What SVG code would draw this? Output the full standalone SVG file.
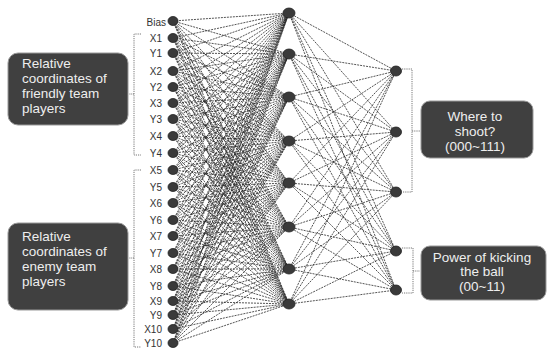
<svg xmlns="http://www.w3.org/2000/svg" width="554" height="354" viewBox="0 0 554 354">
<defs>
<style>
.bg{fill:#ffffff}
.conn{fill:none;stroke:#2a2a2a;stroke-width:0.8;stroke-dasharray:2 1}
.brk{fill:none;stroke:#777;stroke-width:1;stroke-dasharray:1.2 1}
.nin{fill:#3a3a3a;stroke:#222;stroke-width:0.8}
.lbl{font-family:"Liberation Sans",Arial,sans-serif;font-size:10px;fill:#333;text-anchor:end}
.box{fill:#404040;stroke:#999;stroke-width:1}
.bt{font-family:"Liberation Sans",Arial,sans-serif;font-size:13.5px;fill:#eeeeee}
.btc{font-family:"Liberation Sans",Arial,sans-serif;font-size:13.5px;fill:#eeeeee;text-anchor:middle}
</style>
</defs>
<rect class="bg" x="0" y="0" width="554" height="354"/>
<g id="connectors">
<path class="conn" d="M173 21L289 13M173 21L289 54M173 21L289 97M173 21L289 141M173 21L289 183M173 21L289 227M173 21L289 269M173 21L289 304"/>
<path class="conn" d="M173 38L289 13M173 38L289 54M173 38L289 97M173 38L289 141M173 38L289 183M173 38L289 227M173 38L289 269M173 38L289 304"/>
<path class="conn" d="M173 53L289 13M173 53L289 54M173 53L289 97M173 53L289 141M173 53L289 183M173 53L289 227M173 53L289 269M173 53L289 304"/>
<path class="conn" d="M173 71L289 13M173 71L289 54M173 71L289 97M173 71L289 141M173 71L289 183M173 71L289 227M173 71L289 269M173 71L289 304"/>
<path class="conn" d="M173 87L289 13M173 87L289 54M173 87L289 97M173 87L289 141M173 87L289 183M173 87L289 227M173 87L289 269M173 87L289 304"/>
<path class="conn" d="M173 103L289 13M173 103L289 54M173 103L289 97M173 103L289 141M173 103L289 183M173 103L289 227M173 103L289 269M173 103L289 304"/>
<path class="conn" d="M173 119L289 13M173 119L289 54M173 119L289 97M173 119L289 141M173 119L289 183M173 119L289 227M173 119L289 269M173 119L289 304"/>
<path class="conn" d="M173 136L289 13M173 136L289 54M173 136L289 97M173 136L289 141M173 136L289 183M173 136L289 227M173 136L289 269M173 136L289 304"/>
<path class="conn" d="M173 153L289 13M173 153L289 54M173 153L289 97M173 153L289 141M173 153L289 183M173 153L289 227M173 153L289 269M173 153L289 304"/>
<path class="conn" d="M173 170L289 13M173 170L289 54M173 170L289 97M173 170L289 141M173 170L289 183M173 170L289 227M173 170L289 269M173 170L289 304"/>
<path class="conn" d="M173 187L289 13M173 187L289 54M173 187L289 97M173 187L289 141M173 187L289 183M173 187L289 227M173 187L289 269M173 187L289 304"/>
<path class="conn" d="M173 203L289 13M173 203L289 54M173 203L289 97M173 203L289 141M173 203L289 183M173 203L289 227M173 203L289 269M173 203L289 304"/>
<path class="conn" d="M173 220L289 13M173 220L289 54M173 220L289 97M173 220L289 141M173 220L289 183M173 220L289 227M173 220L289 269M173 220L289 304"/>
<path class="conn" d="M173 236L289 13M173 236L289 54M173 236L289 97M173 236L289 141M173 236L289 183M173 236L289 227M173 236L289 269M173 236L289 304"/>
<path class="conn" d="M173 253L289 13M173 253L289 54M173 253L289 97M173 253L289 141M173 253L289 183M173 253L289 227M173 253L289 269M173 253L289 304"/>
<path class="conn" d="M173 269L289 13M173 269L289 54M173 269L289 97M173 269L289 141M173 269L289 183M173 269L289 227M173 269L289 269M173 269L289 304"/>
<path class="conn" d="M173 286L289 13M173 286L289 54M173 286L289 97M173 286L289 141M173 286L289 183M173 286L289 227M173 286L289 269M173 286L289 304"/>
<path class="conn" d="M173 301L289 13M173 301L289 54M173 301L289 97M173 301L289 141M173 301L289 183M173 301L289 227M173 301L289 269M173 301L289 304"/>
<path class="conn" d="M173 315L289 13M173 315L289 54M173 315L289 97M173 315L289 141M173 315L289 183M173 315L289 227M173 315L289 269M173 315L289 304"/>
<path class="conn" d="M173 329L289 13M173 329L289 54M173 329L289 97M173 329L289 141M173 329L289 183M173 329L289 227M173 329L289 269M173 329L289 304"/>
<path class="conn" d="M173 343L289 13M173 343L289 54M173 343L289 97M173 343L289 141M173 343L289 183M173 343L289 227M173 343L289 269M173 343L289 304"/>
<path class="conn" d="M289 13L396 71M289 13L396 132M289 13L396 192M289 13L396 251M289 13L396 290"/>
<path class="conn" d="M289 54L396 71M289 54L396 132M289 54L396 192M289 54L396 251M289 54L396 290"/>
<path class="conn" d="M289 97L396 71M289 97L396 132M289 97L396 192M289 97L396 251M289 97L396 290"/>
<path class="conn" d="M289 141L396 71M289 141L396 132M289 141L396 192M289 141L396 251M289 141L396 290"/>
<path class="conn" d="M289 183L396 71M289 183L396 132M289 183L396 192M289 183L396 251M289 183L396 290"/>
<path class="conn" d="M289 227L396 71M289 227L396 132M289 227L396 192M289 227L396 251M289 227L396 290"/>
<path class="conn" d="M289 269L396 71M289 269L396 132M289 269L396 192M289 269L396 251M289 269L396 290"/>
<path class="conn" d="M289 304L396 71M289 304L396 132M289 304L396 192M289 304L396 251M289 304L396 290"/>
<path class="brk" d="M141 34H134V155H141M134 94H129"/>
<path class="brk" d="M141 170H134V347H141M134 258H129"/>
<path class="brk" d="M402 69H412V192H402M412 131H420"/>
<path class="brk" d="M402 248H413V293H402M413 271H420"/>
</g>
<g id="input-nodes">
<g id="in-bias"><ellipse class="nin" cx="173" cy="21" rx="5" ry="4.5"/><text class="lbl" x="166" y="26">Bias</text></g>
<g id="in-x1"><ellipse class="nin" cx="173" cy="38" rx="5" ry="4.5"/><text class="lbl" x="162" y="42">X1</text></g>
<g id="in-y1"><ellipse class="nin" cx="173" cy="53" rx="5" ry="4.5"/><text class="lbl" x="162" y="57">Y1</text></g>
<g id="in-x2"><ellipse class="nin" cx="173" cy="71" rx="5" ry="4.5"/><text class="lbl" x="162" y="75">X2</text></g>
<g id="in-y2"><ellipse class="nin" cx="173" cy="87" rx="5" ry="4.5"/><text class="lbl" x="162" y="91">Y2</text></g>
<g id="in-x3"><ellipse class="nin" cx="173" cy="103" rx="5" ry="4.5"/><text class="lbl" x="162" y="107">X3</text></g>
<g id="in-y3"><ellipse class="nin" cx="173" cy="119" rx="5" ry="4.5"/><text class="lbl" x="162" y="123">Y3</text></g>
<g id="in-x4"><ellipse class="nin" cx="173" cy="136" rx="5" ry="4.5"/><text class="lbl" x="162" y="140">X4</text></g>
<g id="in-y4"><ellipse class="nin" cx="173" cy="153" rx="5" ry="4.5"/><text class="lbl" x="162" y="157">Y4</text></g>
<g id="in-x5"><ellipse class="nin" cx="173" cy="170" rx="5" ry="4.5"/><text class="lbl" x="162" y="174">X5</text></g>
<g id="in-y5"><ellipse class="nin" cx="173" cy="187" rx="5" ry="4.5"/><text class="lbl" x="162" y="191">Y5</text></g>
<g id="in-x6"><ellipse class="nin" cx="173" cy="203" rx="5" ry="4.5"/><text class="lbl" x="162" y="207">X6</text></g>
<g id="in-y6"><ellipse class="nin" cx="173" cy="220" rx="5" ry="4.5"/><text class="lbl" x="162" y="224">Y6</text></g>
<g id="in-x7"><ellipse class="nin" cx="173" cy="236" rx="5" ry="4.5"/><text class="lbl" x="162" y="240">X7</text></g>
<g id="in-y7"><ellipse class="nin" cx="173" cy="253" rx="5" ry="4.5"/><text class="lbl" x="162" y="257">Y7</text></g>
<g id="in-x8"><ellipse class="nin" cx="173" cy="269" rx="5" ry="4.5"/><text class="lbl" x="162" y="273">X8</text></g>
<g id="in-y8"><ellipse class="nin" cx="173" cy="286" rx="5" ry="4.5"/><text class="lbl" x="162" y="290">Y8</text></g>
<g id="in-x9"><ellipse class="nin" cx="173" cy="301" rx="5" ry="4.5"/><text class="lbl" x="162" y="305">X9</text></g>
<g id="in-y9"><ellipse class="nin" cx="173" cy="315" rx="5" ry="4.5"/><text class="lbl" x="162" y="319">Y9</text></g>
<g id="in-x10"><ellipse class="nin" cx="173" cy="329" rx="5" ry="4.5"/><text class="lbl" x="162" y="333">X10</text></g>
<g id="in-y10"><ellipse class="nin" cx="173" cy="343" rx="5" ry="4.5"/><text class="lbl" x="162" y="347">Y10</text></g>
</g>
<g id="hidden-nodes">
<g id="h1"><ellipse class="nin" cx="289" cy="13" rx="6" ry="5"/></g>
<g id="h2"><ellipse class="nin" cx="289" cy="54" rx="6" ry="5"/></g>
<g id="h3"><ellipse class="nin" cx="289" cy="97" rx="6" ry="5"/></g>
<g id="h4"><ellipse class="nin" cx="289" cy="141" rx="6" ry="5"/></g>
<g id="h5"><ellipse class="nin" cx="289" cy="183" rx="6" ry="5"/></g>
<g id="h6"><ellipse class="nin" cx="289" cy="227" rx="6" ry="5"/></g>
<g id="h7"><ellipse class="nin" cx="289" cy="269" rx="6" ry="5"/></g>
<g id="h8"><ellipse class="nin" cx="289" cy="304" rx="6" ry="5"/></g>
</g>
<g id="output-nodes">
<g id="o1"><ellipse class="nin" cx="396" cy="71" rx="5.5" ry="5"/></g>
<g id="o2"><ellipse class="nin" cx="396" cy="132" rx="5.5" ry="5"/></g>
<g id="o3"><ellipse class="nin" cx="396" cy="192" rx="5.5" ry="5"/></g>
<g id="o4"><ellipse class="nin" cx="396" cy="251" rx="5.5" ry="5"/></g>
<g id="o5"><ellipse class="nin" cx="396" cy="290" rx="5.5" ry="5"/></g>
</g>
<g id="box-friendly">
<rect class="box" x="8" y="53" width="120" height="72" rx="10"/>
<text class="bt" x="22" y="67.5">Relative</text>
<text class="bt" x="22" y="82.5">coordinates of</text>
<text class="bt" x="22" y="97.5">friendly team</text>
<text class="bt" x="22" y="112.5">players</text>
</g>
<g id="box-enemy">
<rect class="box" x="8" y="223" width="120" height="87" rx="10"/>
<text class="bt" x="22" y="241">Relative</text>
<text class="bt" x="22" y="256">coordinates of</text>
<text class="bt" x="22" y="271">enemy team</text>
<text class="bt" x="22" y="286">players</text>
</g>
<g id="box-shoot">
<rect class="box" x="421" y="101" width="112" height="57" rx="9"/>
<text class="btc" x="475" y="121">Where to</text>
<text class="btc" x="475" y="136">shoot?</text>
<text class="btc" x="475" y="151">(000~111)</text>
</g>
<g id="box-power">
<rect class="box" x="421" y="246" width="125" height="54" rx="9"/>
<text class="btc" x="482" y="262">Power of kicking</text>
<text class="btc" x="482" y="276">the ball</text>
<text class="btc" x="482" y="291">(00~11)</text>
</g>
</svg>
